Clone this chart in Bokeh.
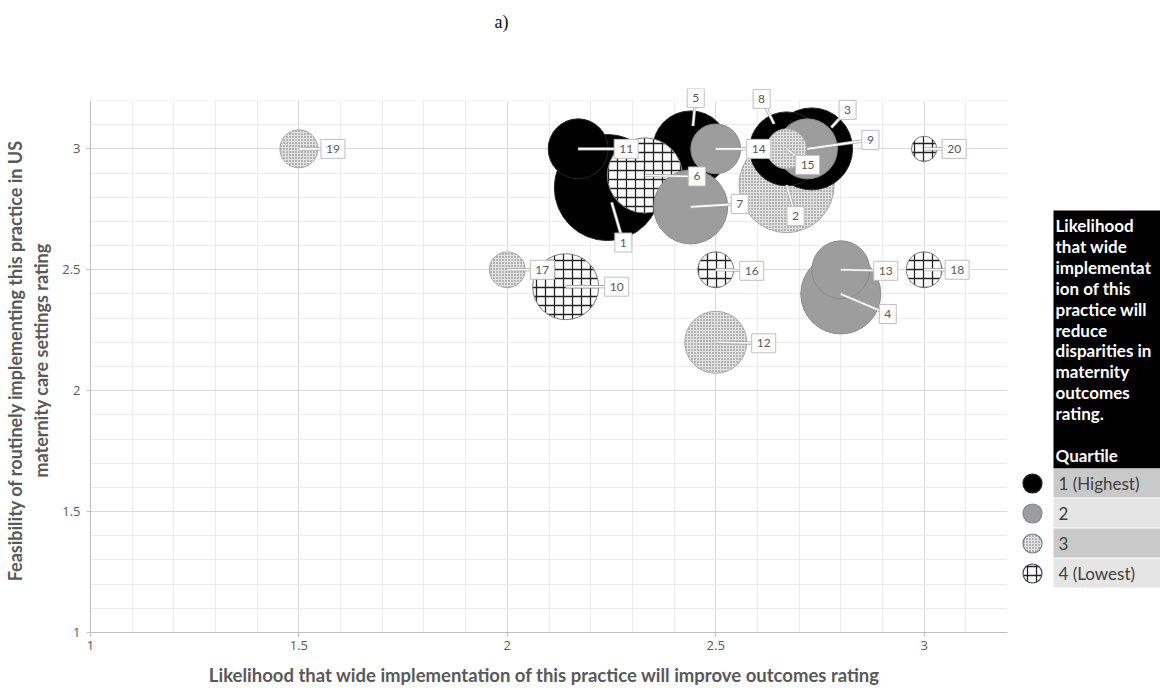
import math
from bokeh.plotting import figure
from bokeh.models import ColumnDataSource, Range1d, SingleIntervalTicker
from bokeh.layouts import column, row
from bokeh.embed import file_html
from bokeh.resources import INLINE
from bokeh.core.properties import value

# ---------------- data ----------------
practice_id = list(range(1, 21))
improve_rating = [2.24, 2.67, 2.73, 2.80, 2.44, 2.33, 2.44, 2.67, 2.72, 2.14,
                  2.17, 2.50, 2.80, 2.50, 2.67, 2.50, 2.00, 3.00, 1.50, 3.00]
feasibility_rating = [2.84, 2.85, 3.00, 2.40, 3.00, 2.89, 2.76, 3.00, 3.00, 2.43,
                      3.00, 2.20, 2.50, 3.00, 3.00, 2.50, 2.50, 2.50, 3.00, 3.00]
disparity_quartile = [1, 3, 1, 2, 1, 4, 2, 1, 2, 4, 1, 3, 2, 2, 3, 4, 3, 4, 3, 4]
bubble_value = [28.1, 22.6, 16.8, 16.0, 14.4, 14.1, 13.7, 13.7, 9.0, 10.9,
                9.0, 9.6, 8.4, 6.2, 4.0, 3.2, 3.2, 3.2, 3.6, 1.6]
axis_ticks = [1, 1.5, 2, 2.5, 3]
quartile_names = ["1 (Highest)", "2", "3", "4 (Lowest)"]
legend_title = ["Likelihood", "that wide", "implementat", "ion of this",
                "practice will", "reduce", "disparities in", "maternity",
                "outcomes", "rating.", "", "Quartile"]
chart_tag = "a)"
x_title = "Likelihood  that wide implementation  of this practice will improve outcomes rating"
y_title = "Feasibility of routinely implementing this practice in US\nmaternity care settings rating"

# ---------------- styles ----------------
FONT = "Lato"
TXT = "#595959"
QSTYLE = {
    1: dict(fill="#000000", line="#262626", hatch=" ", hcolor="#000000", hscale=6, hweight=1),
    2: dict(fill="#9d9d9d", line="#8a8a8a", hatch=" ", hcolor="#9d9d9d", hscale=6, hweight=1),
    3: dict(fill="#e2e2e2", line="#a8a8a8", hatch=".", hcolor="#6a6a6a", hscale=3, hweight=1.2),
    4: dict(fill="#ffffff", line="#7a7a7a", hatch="+", hcolor="#222222", hscale=9, hweight=1.3),
}
BUBBLE_SCALE = 10.0  # px radius per sqrt(value)
X0, X1, Y0, Y1 = 1.0, 3.2, 1.0, 3.2
PLOT_W, PLOT_H = 917, 532          # plotted area (axis extent)
EXTRA_TOP = 12                     # room above the plot area for data labels
PX_X = PLOT_W / (X1 - X0)
PX_Y = PLOT_H / (Y1 - Y0)
Y_TOP = Y1 + EXTRA_TOP / PX_Y
FRAME_W, FRAME_H = PLOT_W, PLOT_H + EXTRA_TOP
label_offset = {1: (16, 55), 2: (9, 31), 3: (36, -39), 4: (47, 20), 5: (5, -51),
                6: (52, 1), 7: (49, -3), 8: (-25, -50), 9: (63, -9), 10: (51, 0),
                11: (48, 0), 12: (48, 1), 13: (45, 1), 14: (43, 0), 15: (21, 16),
                16: (36, 1), 17: (35, 0), 18: (33, 0), 19: (34, 0), 20: (30, 0)}
leader_frac = {1: 0.27, 3: 0.55, 5: 0.45, 8: 0.5}

TOTAL_W, TOTAL_H = 1160, 690
HEAD_H = 48
MAIN_W = 1013
MAIN_H = TOTAL_H - HEAD_H
BORDER_L, BORDER_T = 90, 100 - HEAD_H - EXTRA_TOP
BORDER_R = MAIN_W - BORDER_L - FRAME_W
BORDER_B = MAIN_H - BORDER_T - FRAME_H

# ---------------- main figure ----------------
p = figure(width=MAIN_W, height=MAIN_H, x_range=Range1d(X0, X1), y_range=Range1d(Y0, Y_TOP),
           output_backend="svg", toolbar_location=None,
           min_border_left=BORDER_L, min_border_right=BORDER_R,
           min_border_top=BORDER_T, min_border_bottom=BORDER_B)
p.outline_line_color = None
p.background_fill_color = "white"
for ax in (p.xaxis[0], p.yaxis[0]):
    ax.ticker = SingleIntervalTicker(interval=0.5, num_minor_ticks=5)
    ax.axis_line_color = "#bfbfbf"
    ax.major_tick_line_color = "#bfbfbf"
    ax.major_tick_in = 0
    ax.major_tick_out = 4
    ax.minor_tick_line_color = None
    ax.major_label_text_font = "Open Sans"
    ax.major_label_text_font_size = "13px"
    ax.major_label_text_color = TXT
    ax.axis_label_text_font = FONT
    ax.axis_label_text_font_style = "bold"
    ax.axis_label_text_color = TXT
p.yaxis.bounds = (Y0, Y1)
p.xaxis.axis_label = x_title
p.xaxis.axis_label_text_font_size = "18.5px"
p.xaxis.major_label_standoff = 4
p.xaxis.axis_label_standoff = 11
p.yaxis.axis_label = y_title
p.yaxis.axis_label_text_font_size = "18px"
p.yaxis.major_label_standoff = 6
p.yaxis.axis_label_standoff = 7
p.xaxis.major_label_overrides = {t: f"{t:g}" for t in axis_ticks}
p.yaxis.major_label_overrides = {t: f"{t:g}" for t in axis_ticks}
for g in (p.xgrid[0], p.ygrid[0]):
    g.grid_line_color = "#d9d9d9"
    g.minor_grid_line_color = "#ececec"
# blank strip above the plotted area (room for labels only)
p.quad(left=[X0], right=[X1], bottom=[Y1], top=[Y_TOP], fill_color="white", line_color=None)

# bubbles, largest drawn first
order = sorted(range(len(practice_id)), key=lambda i: -bubble_value[i])
bsrc = ColumnDataSource(dict(
    x=[improve_rating[i] for i in order],
    y=[feasibility_rating[i] for i in order],
    size=[2 * BUBBLE_SCALE * math.sqrt(bubble_value[i]) for i in order],
    fill=[QSTYLE[disparity_quartile[i]]["fill"] for i in order],
    line=[QSTYLE[disparity_quartile[i]]["line"] for i in order],
    hatch=[QSTYLE[disparity_quartile[i]]["hatch"] for i in order],
    hcolor=[QSTYLE[disparity_quartile[i]]["hcolor"] for i in order],
    hscale=[QSTYLE[disparity_quartile[i]]["hscale"] for i in order],
    hweight=[QSTYLE[disparity_quartile[i]]["hweight"] for i in order],
))
p.scatter("x", "y", size="size", source=bsrc, fill_color="fill", line_color="line",
          line_width=1, hatch_pattern="hatch", hatch_color="hcolor",
          hatch_scale="hscale", hatch_weight="hweight")

# data labels with leader lines
lx, ly, sx, sy, lw, txt = [], [], [], [], [], []
for i, pid in enumerate(practice_id):
    dx, dy = label_offset[pid]
    f = leader_frac.get(pid, 0.0)
    x, y = improve_rating[i], feasibility_rating[i]
    lx.append(x + dx / PX_X)
    ly.append(y - dy / PX_Y)
    sx.append(x + f * dx / PX_X)
    sy.append(y - f * dy / PX_Y)
    lw.append(10 + 7 * len(str(pid)))
    txt.append(str(pid))
lsrc = ColumnDataSource(dict(lx=lx, ly=ly, sx=sx, sy=sy, lw=lw, txt=txt))
p.segment("sx", "sy", "lx", "ly", source=lsrc, line_color="#a8a8a8", line_width=3.2)
p.segment("sx", "sy", "lx", "ly", source=lsrc, line_color="#ffffff", line_width=1.6)
p.rect("lx", "ly", width="lw", height=19, width_units="screen", height_units="screen",
       source=lsrc, fill_color="white", line_color="#bfbfbf", line_width=1)
p.text("lx", "ly", text="txt", source=lsrc, text_align="center", text_baseline="middle",
       text_font=value(FONT), text_font_size="12px", text_color=TXT)

# ---------------- legend figure (frame aligned with main frame) ----------------
LEG_W = TOTAL_W - MAIN_W
LEG_Y0 = HEAD_H + BORDER_T   # page y of legend frame top
leg = figure(width=LEG_W, height=MAIN_H, x_range=Range1d(0, LEG_W), y_range=Range1d(FRAME_H, 0),
             output_backend="svg", toolbar_location=None, x_axis_type=None, y_axis_type=None,
             min_border_left=0, min_border_right=0,
             min_border_top=BORDER_T, min_border_bottom=BORDER_B)
leg.outline_line_color = None
leg.xgrid.visible = False
leg.ygrid.visible = False
BOX_L, BOX_R, BOX_T, BOX_B = 40, 150, 210 - LEG_Y0, 468 - LEG_Y0
LINE_H = 20.9
ROW_H = 30
leg.quad(left=[BOX_L], right=[BOX_R], top=[BOX_T], bottom=[BOX_B], fill_color="black", line_color=None)
leg.text(x=[BOX_L + 2] * len(legend_title), y=[BOX_T + 15 + LINE_H * k for k in range(len(legend_title))],
         text=legend_title, text_color="white", text_font=value(FONT), text_font_style="bold",
         text_font_size="17px", text_baseline="middle")
n = len(quartile_names)
rows_top = [BOX_B + ROW_H * k for k in range(n)]
leg.quad(left=[BOX_L] * n, right=[BOX_R] * n, top=rows_top, bottom=[t + ROW_H - 1 for t in rows_top],
         fill_color=["#c9c9c9" if k % 2 == 0 else "#e5e5e5" for k in range(n)], line_color=None)
leg.text(x=[BOX_L + 5] * n, y=[t + ROW_H / 2 for t in rows_top], text=quartile_names,
         text_color="#404040", text_font=value(FONT), text_font_size="17px", text_baseline="middle")
qs = [1, 2, 3, 4]
leg.scatter(x=[19] * n, y=[t + ROW_H / 2 for t in rows_top], size=19,
            fill_color=[QSTYLE[q]["fill"] for q in qs],
            line_color=["#202020", "#7a8a9a", "#6a7f9a", "#3a4a6a"],
            hatch_pattern=[QSTYLE[q]["hatch"] for q in qs],
            hatch_color=[QSTYLE[q]["hcolor"] for q in qs],
            hatch_scale=[QSTYLE[q]["hscale"] for q in qs],
            hatch_weight=[QSTYLE[q]["hweight"] for q in qs], line_width=1.2)

# ---------------- header ----------------
head = figure(width=TOTAL_W, height=HEAD_H, x_range=Range1d(0, TOTAL_W), y_range=Range1d(HEAD_H, 0),
              output_backend="svg", toolbar_location=None, x_axis_type=None, y_axis_type=None,
              min_border_left=0, min_border_right=0, min_border_top=0, min_border_bottom=0)
head.outline_line_color = None
head.xgrid.visible = False
head.ygrid.visible = False
head.text(x=[501], y=[21], text=[chart_tag], text_align="center", text_baseline="middle",
          text_font=value("Liberation Serif"), text_font_size="18px", text_color="#111111")

layout = column(head, row(p, leg, spacing=0), spacing=0)
open("out.html", "w").write(file_html(layout, INLINE))
